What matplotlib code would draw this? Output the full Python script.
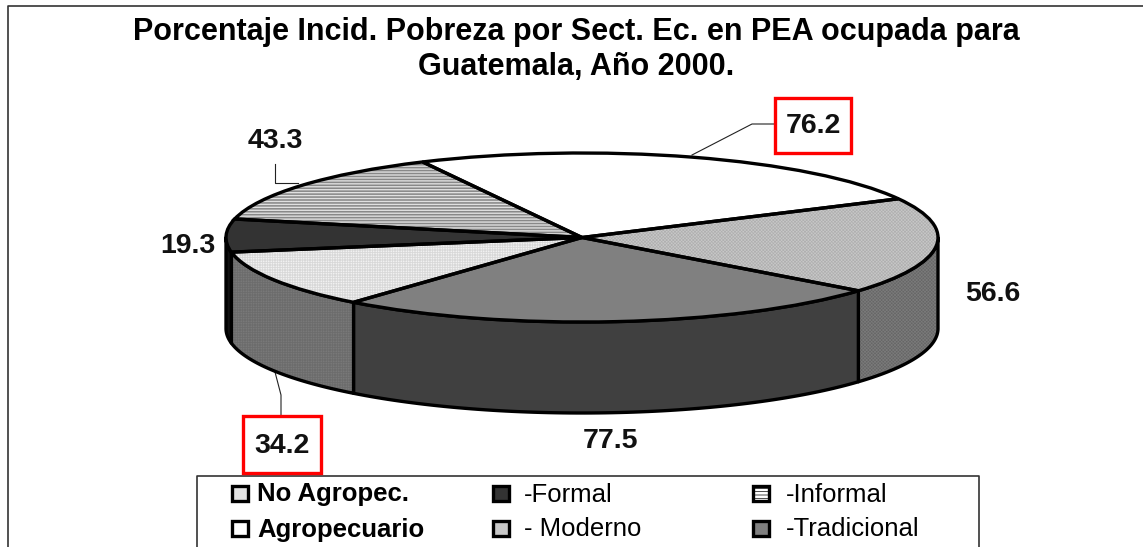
import numpy as np
import matplotlib
matplotlib.use("Agg")
import matplotlib.pyplot as plt
from matplotlib.patches import Rectangle, Polygon

plt.rcParams['font.family'] = ['Liberation Sans', 'DejaVu Sans']
plt.rcParams['hatch.linewidth'] = 0.5

W, H = 1143, 547

title = "Porcentaje Incid. Pobreza por Sect. Ec. en PEA ocupada para\nGuatemala, Año 2000."
sectors = ["Agropecuario", "- Moderno", "-Tradicional", "No Agropec.", "-Formal", "-Informal"]
values = [76.2, 56.6, 77.5, 34.2, 19.3, 43.3]

# top face and wall styles, same order as values
top_colors = ["#ffffff", "#c8c8c8", "#808080", "#ffffff", "#333333", "#ffffff"]
top_hatch_colors = ["#ffffff", "#b0b0b0", "#808080", "#d8d8d8", "#333333", "#555555"]
top_hatches = [None, "xxxxxxxxxx", None, "++++++++++", None, "-----------"]
wall_colors = ["#ffffff", "#666666", "#404040", "#808080", "#111111", "#777777"]
wall_hatch_colors = ["#ffffff", "#7a7a7a", "#404040", "#6c6c6c", "#111111", "#777777"]
wall_hatches = [None, "xxxxxxxxxx", None, "++++++++++", None, None]

# pie geometry in pixels
cx, cy, rx, ry, depth = 582, 237.5, 356, 84.5, 91
start = 116.6
edge_lw = 2.4

fig = plt.figure(figsize=(W / 100, H / 100), dpi=100)

# pixel axes for the frame, labels and legend
ax_px = fig.add_axes([0, 0, 1, 1])
ax_px.set_xlim(0, W)
ax_px.set_ylim(H, 0)
ax_px.axis("off")

ax = fig.add_axes([(cx - rx) / W, 1 - (cy + ry + depth) / H, 2 * rx / W, (2 * ry + depth) / H])
ax.patch.set_alpha(0)

d = depth / ry
angles = start - np.cumsum([0] + values) / sum(values) * 360

# walls, only the part of each slice below the centre shows
for i in range(len(values)):
    t1, t2 = sorted([angles[i], angles[i + 1]])
    for shift in [0, 360, -360]:
        a = max(t1 + shift, 180)
        b = min(t2 + shift, 360)
        if a < b:
            t = np.radians(np.linspace(a, b, 80))
            xs = np.r_[np.cos(t), np.cos(t[::-1])]
            ys = np.r_[np.sin(t), np.sin(t[::-1]) - d]
            ax.add_patch(Polygon(np.c_[xs, ys], closed=True, facecolor=wall_colors[i],
                                 edgecolor=wall_hatch_colors[i], hatch=wall_hatches[i], lw=0, clip_on=False))
            ax.add_patch(Polygon(np.c_[xs, ys], closed=True, facecolor="none",
                                 edgecolor="black", lw=edge_lw, clip_on=False, joinstyle="round"))

# top face, hatch first and black outline over it
wedges, _ = ax.pie(values, startangle=start, counterclock=False, colors=top_colors,
                   wedgeprops={"linewidth": 0, "clip_on": False})
for w, hc, ht in zip(wedges, top_hatch_colors, top_hatches):
    w.set_edgecolor(hc)
    w.set_hatch(ht)
ax.pie(values, startangle=start, counterclock=False, colors=["none"] * len(values),
       wedgeprops={"linewidth": edge_lw, "edgecolor": "black", "clip_on": False})
ax.set_aspect("auto")
ax.set_xlim(-1, 1)
ax.set_ylim(-1 - d, 1)

# outer frame, cut at the right and bottom of the image
ax_px.plot([8, 8, W], [H, 6, 6], color="#333333", lw=1.2, zorder=1)

ax_px.text(576, 49.5, title, ha="center", va="center", fontsize=22, fontweight="bold",
           linespacing=1.2, color="black")

# data labels
label_xy = [(813, 126), (993, 294), (611, 441), (282, 446), (188, 246), (275, 141)]
for v, (x, y) in zip(values, label_xy):
    ax_px.text(x, y, f"{v:.1f}", ha="center", va="center", fontsize=20.5, fontweight="bold", color="#111111")

# red boxes
for x0, y0, x1, y1 in [(775, 98, 851, 153), (243, 416, 321, 473)]:
    ax_px.add_patch(Rectangle((x0, y0), x1 - x0, y1 - y0, fill=False, edgecolor="#ff0000", lw=2.4, zorder=3))

# leader lines
for xs, ys in [([692, 752, 775], [155, 124, 124]),
               ([275, 275, 298], [164, 183, 183]),
               ([275, 281, 281], [372, 395, 415])]:
    ax_px.plot(xs, ys, color="#222222", lw=0.8, zorder=1)

# legend box, also cut by the bottom of the image
ax_px.plot([197, 197, 979, 979], [H, 476, 476, H], color="#333333", lw=1.2)

legend_pos = [(232, 528, True), (493, 528, False), (753, 528, False),
              (232, 493, True), (493, 493, False), (753, 493, False)]
legend_face = ["#ffffff", "#c8c8c8", "#808080", "#e4e4e4", "#333333", "#ffffff"]
legend_hatch = [None, None, None, None, None, "-----"]
legend_text_x = [257, 524, 786, 257, 524, 786]
for name, (x, y, bold), fc, ht, tx in zip(sectors, legend_pos, legend_face, legend_hatch, legend_text_x):
    ax_px.add_patch(Rectangle((x, y - 7.5), 16, 15, facecolor=fc, edgecolor="black", lw=2.4, hatch=ht))
    ax_px.text(tx, y + 8.5, name, ha="left", va="baseline", fontsize=18.5,
               fontweight="bold" if bold else "normal", color="black")

fig.savefig("out.png", dpi=100)
